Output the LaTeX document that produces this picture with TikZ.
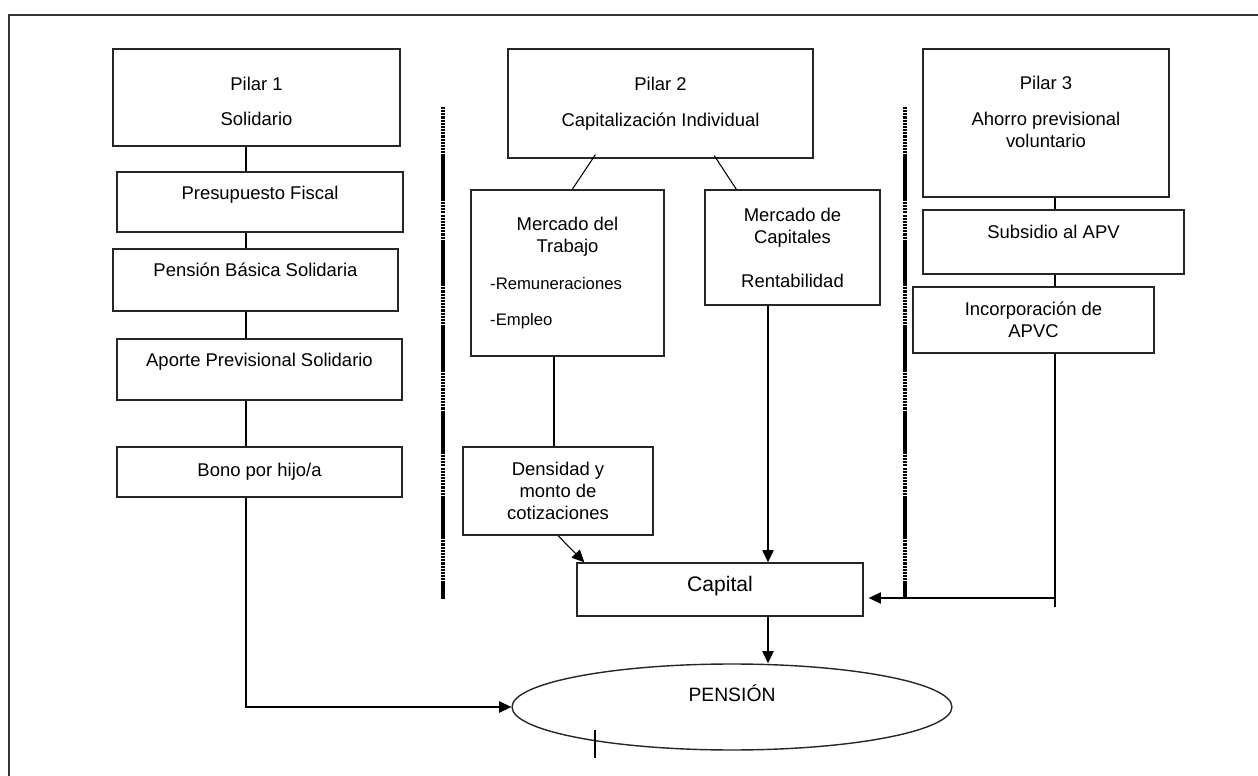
\documentclass[tikz,border=0pt]{standalone}
\usepackage{fontspec}
\setmainfont{Liberation Sans}
\usetikzlibrary{arrows.meta, shapes.geometric, calc}

\begin{document}
\begin{tikzpicture}[
  x=0.02cm, y=-0.02cm,
  box/.style={draw=black!85, line width=0.8pt, align=center, inner sep=2pt,
              font=\fontsize{10.5}{12.6}\selectfont},
  txtup/.style={text height=7.5pt, text depth=#1},
  arr/.style={-{Triangle[length=7pt, width=6.5pt]}, line width=0.6pt},
  link/.style={line width=0.6pt},
  divider/.style={line width=2.2pt},
]
  \useasboundingbox (0,0) rectangle (1258,776);
  \draw[line width=0.9pt, black!80] (9,776) -- (9,15) -- (1258,15);

  \foreach \dx in {443, 905} {
    \draw[divider, dash pattern=on 1.2pt off 0.6pt] (\dx,107) -- (\dx,599);
    \foreach \sy in {157,242,...,582}
      \draw[divider] (\dx,\sy) -- (\dx,{min(\sy+42,599)});
  }

  \node[box, minimum width=5.74cm, minimum height=1.94cm] (pilar1) at (256.5,97.5)
    {\rule{0pt}{12pt}Pilar 1\\[7.8pt]Solidario};
  \node[box, txtup=10.7pt, minimum width=5.72cm, minimum height=1.2cm] (presup) at (260,202)
    {Presupuesto Fiscal};
  \node[box, txtup=11.9pt, minimum width=5.7cm, minimum height=1.24cm] (pbs) at (255.5,280)
    {Pensión Básica Solidaria};
  \node[box, txtup=11.3pt, minimum width=5.7cm, minimum height=1.22cm] (aps) at (259.5,369.5)
    {Aporte Previsional Solidario};
  \node[box, txtup=2pt, minimum width=5.7cm, minimum height=1cm] (bono) at (259.5,472)
    {Bono por hijo/a};

  \node[box, minimum width=6.1cm, minimum height=2.18cm] (pilar2) at (660.5,103.5)
    {Pilar 2\\[7.8pt]Capitalización Individual};
  \node[box, minimum width=3.86cm, minimum height=3.32cm] (trabajo) at (567.5,273)
    {Mercado del\\Trabajo\\[8pt]\makebox[88pt][l]{\fontsize{9.5}{11}\selectfont -Remuneraciones}\\[8pt]\makebox[88pt][l]{\fontsize{9.5}{11}\selectfont -Empleo}};
  \node[box, minimum width=3.5cm, minimum height=2.3cm] (capitales) at (792.5,247.5)
    {Mercado de\\Capitales\\[12.4pt]Rentabilidad};
  \node[box, minimum width=3.8cm, minimum height=1.76cm] (densidad) at (558,491)
    {Densidad y\\monto de\\cotizaciones};
  \node[box, font=\fontsize{12}{14.4}\selectfont, text height=8.6pt, text depth=6.8pt,
        minimum width=5.72cm, minimum height=1.06cm] (capital) at (720,589.5) {Capital};

  \node[box, minimum width=4.92cm, minimum height=2.96cm] (pilar3) at (1046,123)
    {Pilar 3\\[7.8pt]Ahorro previsional\\voluntario\\\mbox{}};
  \node[box, txtup=11.9pt, minimum width=5.22cm, minimum height=1.28cm] (subsidio) at (1053.5,242)
    {Subsidio al APV};
  \node[box, minimum width=4.82cm, minimum height=1.32cm] (apvc) at (1033.5,320)
    {Incorporación de\\APVC};

  \node[box, ellipse, inner sep=0pt, font=\fontsize{11}{13.2}\selectfont, text height=7.9pt,
        text depth=14.1pt, minimum width=8.8cm, minimum height=1.72cm] (pension) at (732,707) {PENSIÓN};

  \coordinate (c1) at (246,0);
  \coordinate (c2) at (554,0);
  \coordinate (c3) at (768,0);
  \coordinate (c4) at (1055,0);
  \coordinate (join) at (1055,598);

  \draw[link] (pilar1.south -| c1) -- (presup.north -| c1);
  \draw[link] (presup.south -| c1) -- (pbs.north -| c1);
  \draw[link] (pbs.south -| c1) -- (aps.north -| c1);
  \draw[link] (aps.south -| c1) -- (bono.north -| c1);
  \draw[arr] (bono.south -| c1) |- (pension.west);

  \draw[link] ($(pilar2.south west)+(88,-4)$) -- ($(trabajo.north west)+(102,0)$);
  \draw[link] ($(pilar2.south west)+(207,-3)$) -- ($(capitales.north west)+(32,0)$);
  \draw[link] (trabajo.south -| c2) -- (densidad.north -| c2);
  \draw[arr] (densidad.south) -- ($(capital.north west)+(8,0)$);
  \draw[arr] (capitales.south -| c3) -- (capital.north -| c3);
  \draw[arr] (capital.south -| c3) -- (pension.north -| c3);

  \draw[link] (pilar3.south -| c4) -- (subsidio.north -| c4);
  \draw[link] (subsidio.south -| c4) -- (apvc.north -| c4);
  \draw[link] (apvc.south -| c4) -- ($(join)+(0,9)$);
  \draw[arr] (join) -- ($(capital.east |- join)+(5,0)$);

  \draw[link] ($(pension.south)+(-137,-21)$) -- ++(0,28);
\end{tikzpicture}
\end{document}
